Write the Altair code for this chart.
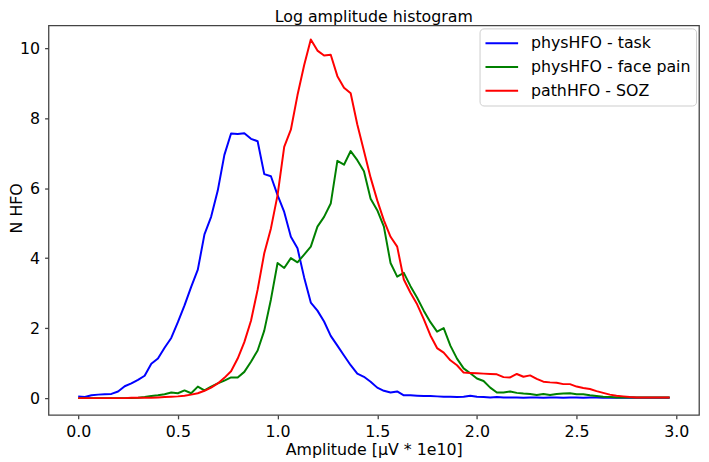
import altair as alt
import pandas as pd

# Bin positions (amplitude, µV * 1e10), 90 bins of width 1/30
amplitude = [round(i / 30, 4) for i in range(90)]

series_names = ["physHFO - task", "physHFO - face pain", "pathHFO - SOZ"]
series_colors = ["#0000ff", "#008000", "#ff0000"]

task = [
    0.05, 0.03, 0.08, 0.10, 0.11, 0.12, 0.19, 0.34, 0.42, 0.52,
    0.64, 0.98, 1.13, 1.44, 1.72, 2.17, 2.65, 3.18, 3.67, 4.68,
    5.18, 5.93, 6.95, 7.56, 7.55, 7.57, 7.41, 7.34, 6.40, 6.34,
    5.80, 5.32, 4.61, 4.28, 3.45, 2.73, 2.50, 2.19, 1.78, 1.50,
    1.22, 0.94, 0.70, 0.61, 0.47, 0.30, 0.21, 0.16, 0.19, 0.08,
    0.08, 0.07, 0.06, 0.06, 0.05, 0.04, 0.04, 0.03, 0.04, 0.07,
    0.04, 0.03, 0.02, 0.03, 0.02, 0.02, 0.02, 0.01, 0.02, 0.02,
    0.01, 0.02, 0.02, 0.01, 0.02, 0.02, 0.01, 0.02, 0.02, 0.01,
    0.02, 0.01, 0.01, 0.02, 0.01, 0.01, 0.01, 0.01, 0.01, 0.01,
]

face_pain = [
    0.00, 0.00, 0.00, 0.00, 0.00, 0.00, 0.00, 0.00, 0.00, 0.01,
    0.03, 0.06, 0.08, 0.11, 0.16, 0.14, 0.22, 0.14, 0.33, 0.22,
    0.33, 0.42, 0.50, 0.59, 0.59, 0.75, 1.04, 1.36, 1.93, 2.82,
    3.86, 3.72, 4.00, 3.88, 4.10, 4.33, 4.90, 5.18, 5.56, 6.78,
    6.67, 7.06, 6.80, 6.48, 5.70, 5.37, 4.90, 3.86, 3.47, 3.58,
    3.20, 2.87, 2.50, 2.17, 1.90, 2.00, 1.50, 1.13, 0.85, 0.71,
    0.56, 0.49, 0.30, 0.16, 0.16, 0.19, 0.15, 0.13, 0.12, 0.09,
    0.12, 0.09, 0.12, 0.13, 0.14, 0.11, 0.11, 0.08, 0.06, 0.04,
    0.03, 0.02, 0.02, 0.02, 0.02, 0.02, 0.02, 0.02, 0.02, 0.02,
]

soz = [
    0.00, 0.00, 0.00, 0.00, 0.00, 0.00, 0.00, 0.00, 0.01, 0.01,
    0.01, 0.01, 0.02, 0.03, 0.04, 0.05, 0.07, 0.10, 0.14, 0.21,
    0.30, 0.42, 0.58, 0.77, 1.13, 1.60, 2.21, 3.10, 4.14, 4.85,
    5.80, 7.18, 7.67, 8.66, 9.51, 10.25, 9.93, 9.79, 9.81, 9.20,
    8.87, 8.71, 7.82, 7.06, 6.30, 5.65, 5.08, 4.61, 4.33, 3.39,
    3.01, 2.68, 2.26, 1.79, 1.43, 1.30, 1.08, 0.94, 0.73, 0.72,
    0.71, 0.70, 0.69, 0.68, 0.60, 0.59, 0.69, 0.61, 0.65, 0.55,
    0.47, 0.45, 0.44, 0.40, 0.40, 0.33, 0.29, 0.26, 0.20, 0.15,
    0.10, 0.07, 0.05, 0.03, 0.02, 0.02, 0.02, 0.02, 0.02, 0.02,
]

x_ticks = [0.0, 0.5, 1.0, 1.5, 2.0, 2.5, 3.0]
y_ticks = [0, 2, 4, 6, 8, 10]

rows = []
for name, vals in zip(series_names, [task, face_pain, soz]):
    for a, v in zip(amplitude, vals):
        rows.append({"amplitude": a, "n": v, "series": name})
df = pd.DataFrame(rows)

FONT = "DejaVu Sans"
FRAME = "#444444"

chart = (
    alt.Chart(df)
    .mark_line(strokeWidth=2, strokeJoin="round")
    .encode(
        x=alt.X(
            "amplitude:Q",
            scale=alt.Scale(domain=[-0.1488, 3.114], nice=False, zero=False),
            axis=alt.Axis(
                values=x_ticks,
                format=".1f",
                title="Amplitude [μV * 1e10]",
                grid=False,
                domain=False,
                tickSize=4,
                tickColor=FRAME,
                tickWidth=1.3,
                labelFont=FONT,
                labelFontSize=16,
                labelColor="black",
                labelPadding=5,
                labelFlush=False,
                labelOverlap=False,
                titleFont=FONT,
                titleFontSize=16,
                titleFontWeight="normal",
                titleColor="black",
                titleBaseline="alphabetic",
                titleY=40,
            ),
        ),
        y=alt.Y(
            "n:Q",
            scale=alt.Scale(domain=[-0.48, 10.65], nice=False, zero=False),
            axis=alt.Axis(
                values=y_ticks,
                format="d",
                title="N HFO",
                grid=False,
                domain=False,
                tickSize=4,
                tickColor=FRAME,
                tickWidth=1.3,
                labelFont=FONT,
                labelFontSize=16,
                labelColor="black",
                labelPadding=5,
                labelFlush=False,
                labelOverlap=False,
                titleFont=FONT,
                titleFontSize=16,
                titleFontWeight="normal",
                titleColor="black",
                titleBaseline="alphabetic",
                titleX=-27,
                titleY=184.5,
            ),
        ),
        color=alt.Color(
            "series:N",
            scale=alt.Scale(domain=series_names, range=series_colors),
            legend=alt.Legend(
                title=None,
                orient="none",
                legendX=436,
                legendY=3,
                symbolType="stroke",
                symbolSize=1089,
                symbolStrokeWidth=2,
                labelFont=FONT,
                labelFontSize=16,
                labelColor="black",
                labelLimit=300,
                labelOffset=12,
                padding=5,
                rowPadding=4,
                clipHeight=20,
                strokeColor="#cccccc",
                fillColor="white",
                cornerRadius=4,
            ),
        ),
        order=alt.Order("amplitude:Q"),
    )
    .properties(
        width=658,
        height=394,
        autosize=alt.AutoSizeParams(type="none"),
        padding={"left": 41, "top": 15, "right": 2, "bottom": 45},
        title=alt.Title(
            "Log amplitude histogram",
            font=FONT,
            fontSize=16,
            fontWeight="normal",
            color="black",
            anchor="middle",
            baseline="alphabetic",
            offset=3.5,
            dy=16,
            frame="group",
        ),
    )
    .configure(font=FONT, background="white")
    .configure_view(stroke=FRAME, strokeWidth=1.3)
)

chart.save("out.html", embed_options={"renderer": "svg", "actions": False})
